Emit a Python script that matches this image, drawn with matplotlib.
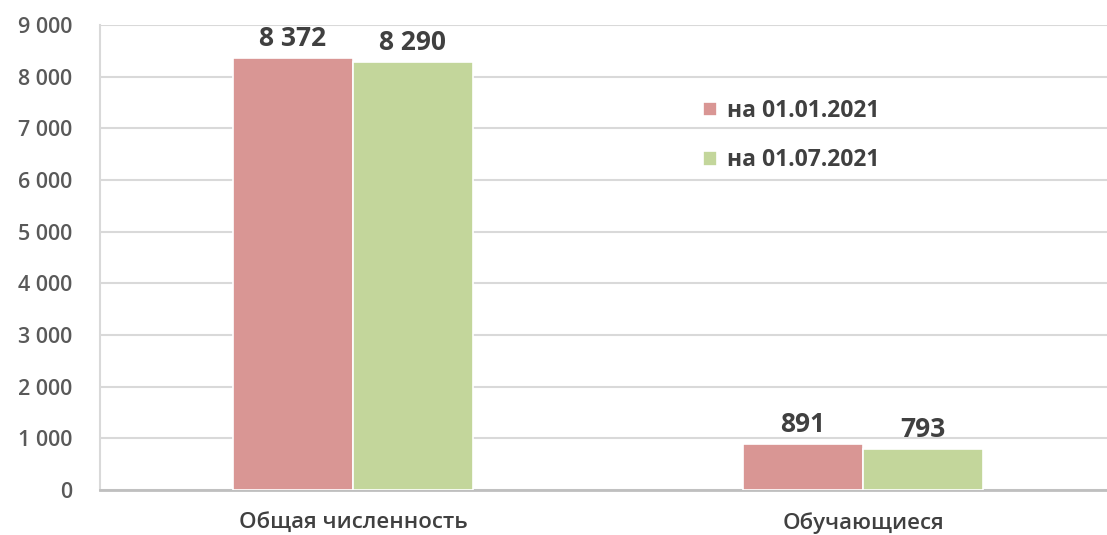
import numpy as np
import matplotlib
matplotlib.use('Agg')
import matplotlib.pyplot as plt
from matplotlib.ticker import FuncFormatter, MultipleLocator

# Data
categories = ['Общая численность', 'Обучающиеся']
series_names = ['на 01.01.2021', 'на 01.07.2021']
values_jan = [8372, 891]
values_jul = [8290, 793]
colors = ['#D99694', '#C3D69B']

plt.rcParams['font.family'] = ['Open Sans', 'DejaVu Sans']

fig = plt.figure(figsize=(11.07, 5.35), dpi=100)
ax = fig.add_axes([0.0903, 0.0841, 0.91, 0.869])

x = np.arange(len(categories))
w = 0.235

def space_fmt(v, pos=None):
    return format(int(round(v)), ',').replace(',', ' ')

for i, (vals, name) in enumerate(zip([values_jan, values_jul], series_names)):
    offs = (i - 0.5) * w
    bars = ax.bar(x + offs, vals, width=w, color=colors[i], edgecolor='white',
                  linewidth=1.2, label=name, zorder=3)
    for b, v in zip(bars, vals):
        ax.annotate(space_fmt(v), (b.get_x() + b.get_width() / 2, v),
                    xytext=(0, 4), textcoords='offset points',
                    ha='center', va='bottom', fontsize=19, fontweight='bold',
                    color='#404040')

ax.set_xlim(-0.496, 1.479)
ax.set_ylim(0, 9000)
ax.yaxis.set_major_locator(MultipleLocator(1000))
ax.yaxis.set_major_formatter(FuncFormatter(space_fmt))
ax.grid(axis='y', color='#d9d9d9', linewidth=1.5, zorder=0)

ax.set_xticks(x)
ax.set_xticklabels(categories, fontsize=16, fontweight='semibold', color='#404040')
ax.tick_params(axis='x', length=0, pad=16)
ax.tick_params(axis='y', length=0, pad=20, labelsize=15.5, labelcolor='#595959')
for lbl in ax.get_yticklabels():
    lbl.set_fontweight('semibold')

for s in ['top', 'right']:
    ax.spines[s].set_visible(False)
ax.spines['left'].set_color('#d9d9d9')
ax.spines['left'].set_linewidth(1.5)
ax.spines['bottom'].set_color('#bfbfbf')
ax.spines['bottom'].set_linewidth(2)

leg = ax.legend(loc='upper left', bbox_to_anchor=(0.578, 0.885), frameon=False,
                handlelength=0.6, handleheight=0.6, handletextpad=0.45,
                labelspacing=1.1, prop={'size': 16.5, 'weight': 'bold'})
for t in leg.get_texts():
    t.set_color('#404040')

fig.savefig('out.png', dpi=100)
